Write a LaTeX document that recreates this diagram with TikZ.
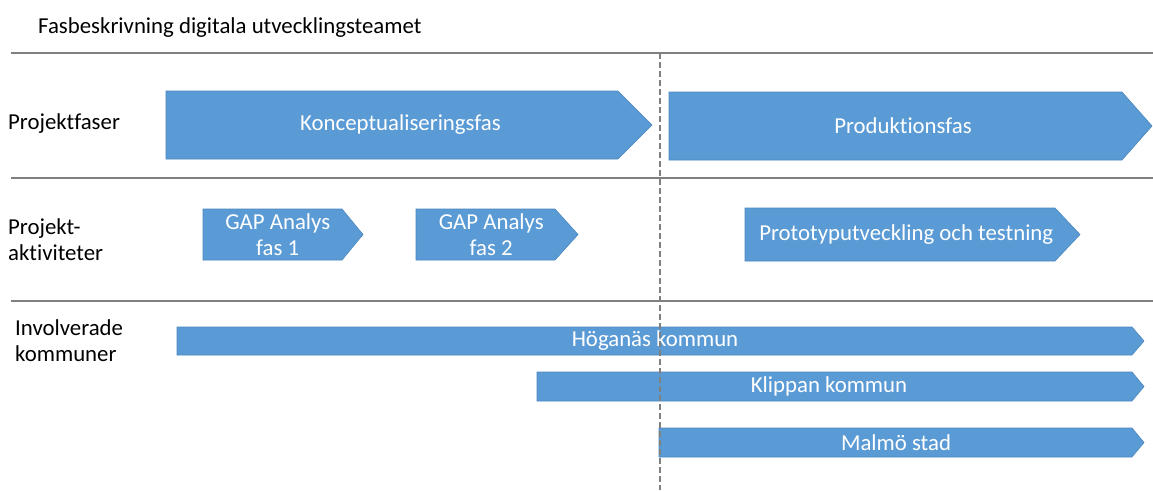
\documentclass[tikz,border=0pt]{standalone}
\usepackage{fontspec}
\setmainfont{Carlito}[Ligatures=NoCommon]
\definecolor{chevfill}{HTML}{5B9BD5}
\definecolor{chevdraw}{HTML}{4A86BE}
\definecolor{rulegray}{HTML}{808080}
\tikzset{
  chev/.style={fill=chevfill, draw=chevdraw, line width=0.6pt},
  chevtext/.style={text=white, font=\fontsize{22.8}{26}\selectfont, align=center, inner sep=0pt},
  lbl/.style={font=\fontsize{22.8}{26}\selectfont, align=left, anchor=west, inner sep=0pt},
  rule/.style={draw=rulegray, line width=1.6pt},
  divider/.style={draw=rulegray, line width=1.4pt, dash pattern=on 6pt off 3pt}
}
\newcommand\chevronat[8]{%
  \draw[chev] (#2,#3) -- (#4,#3) -- (#5,{(#3+#6)/2}) -- (#4,#6) -- (#2,#6) -- cycle;
  \node[chevtext] (#1) at (#8,{(#3+#6)/2}) {#7};}
\newcommand\chevron[7]{\chevronat{#1}{#2}{#3}{#4}{#5}{#6}{#7}{{(#2+(#4+#5)/2)/2}}}
\begin{document}
\begin{tikzpicture}[x=1pt,y=-1pt]
\useasboundingbox[fill=white] (0,0) rectangle (1153,490);
% rules
\coordinate (r1a) at (11,53);  \coordinate (r1b) at (1153,53);
\coordinate (r2a) at (11,178); \coordinate (r2b) at (1153,178);
\coordinate (r3a) at (11,301); \coordinate (r3b) at (1153,301);
\coordinate (da) at (660,53);  \coordinate (db) at (660,490);
\draw[rule] (r1a) -- (r1b);
\draw[rule] (r2a) -- (r2b);
\draw[rule] (r3a) -- (r3b);
% title and labels
\node[lbl] (title) at (38,28) {Fasbeskrivning digitala utvecklingsteamet};
\node[lbl] (lfas) at (8,124) {Projektfaser};
\node[lbl] (lakt) at (8,240) {Projekt-\\aktiviteter};
\node[lbl] (lkom) at (15,341) {Involverade\\kommuner};
% project phases
\chevron{konc}{166}{91}{618}{652}{159}{Konceptualiseringsfas}
\chevron{prod}{669}{92}{1122}{1152}{160}{Produktionsfas}
% activities
\chevron{gap1}{203}{209}{342}{363}{260}{GAP Analys\\fas 1}
\chevron{gap2}{416}{209}{555}{578}{260}{GAP Analys\\fas 2}
\chevron{proto}{745}{208}{1055}{1080}{261}{Prototyputveckling och testning}
% municipalities
\chevronat{hog}{177}{327}{1132}{1144}{355}{Höganäs kommun}{655}
\chevronat{kli}{537}{372}{1132}{1144}{401}{Klippan kommun}{829}
\chevronat{mal}{659}{428}{1132}{1144}{457}{Malmö stad}{896}
% divider
\draw[divider] (da) -- (db);
\end{tikzpicture}
\end{document}
